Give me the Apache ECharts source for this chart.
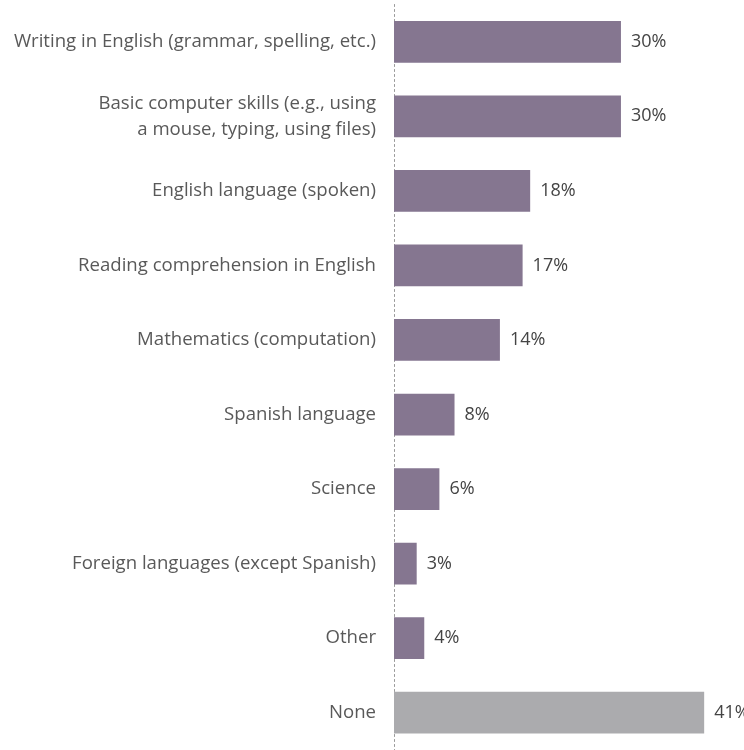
<!DOCTYPE html>
<html>
<head>
<meta charset="utf-8">
<script src="https://cdn.jsdelivr.net/npm/echarts@6/dist/echarts.min.js"></script>
<style>
  html, body { margin: 0; padding: 0; background: #fff; }
  #chart { width: 744px; height: 750px; }
</style>
</head>
<body>
<div id="chart"></div>
<script>
// Skills categories, top to bottom
const categories = [
  'Writing in English (grammar, spelling, etc.)',
  'Basic computer skills (e.g., using\na mouse, typing, using files)',
  'English language (spoken)',
  'Reading comprehension in English',
  'Mathematics (computation)',
  'Spanish language',
  'Science',
  'Foreign languages (except Spanish)',
  'Other',
  'None'
];
// Share of respondents, percent
const values = [30, 30, 18, 17, 14, 8, 6, 3, 4, 41];
const highlightCategory = 'None';

const purple = '#857690';
const grey = '#ABABAE';

const chart = echarts.init(document.getElementById('chart'));
chart.setOption({
  animation: false,
  grid: { left: 394, right: 2, top: 4.5, bottom: -0.5, containLabel: false },
  xAxis: {
    type: 'value', min: 0, max: 46,
    show: false
  },
  yAxis: {
    type: 'category',
    inverse: true,
    data: categories,
    axisTick: { show: false },
    axisLine: { show: true, lineStyle: { color: '#9a9a9a', type: [2, 3], width: 1 } },
    axisLabel: {
      margin: 18,
      fontFamily: '"Open Sans", sans-serif',
      fontSize: 18.6,
      color: '#595959',
      lineHeight: 26,
      align: 'right'
    }
  },
  series: [{
    type: 'bar',
    barCategoryGap: '44%',
    data: values.map((v, i) => ({
      value: v,
      itemStyle: { color: categories[i] === highlightCategory ? grey : purple }
    })),
    label: {
      show: true,
      position: 'right',
      distance: 10,
      formatter: p => p.value + '%',
      fontFamily: '"Open Sans", sans-serif',
      fontSize: 18,
      color: '#444444'
    }
  }]
});
</script>
</body>
</html>
